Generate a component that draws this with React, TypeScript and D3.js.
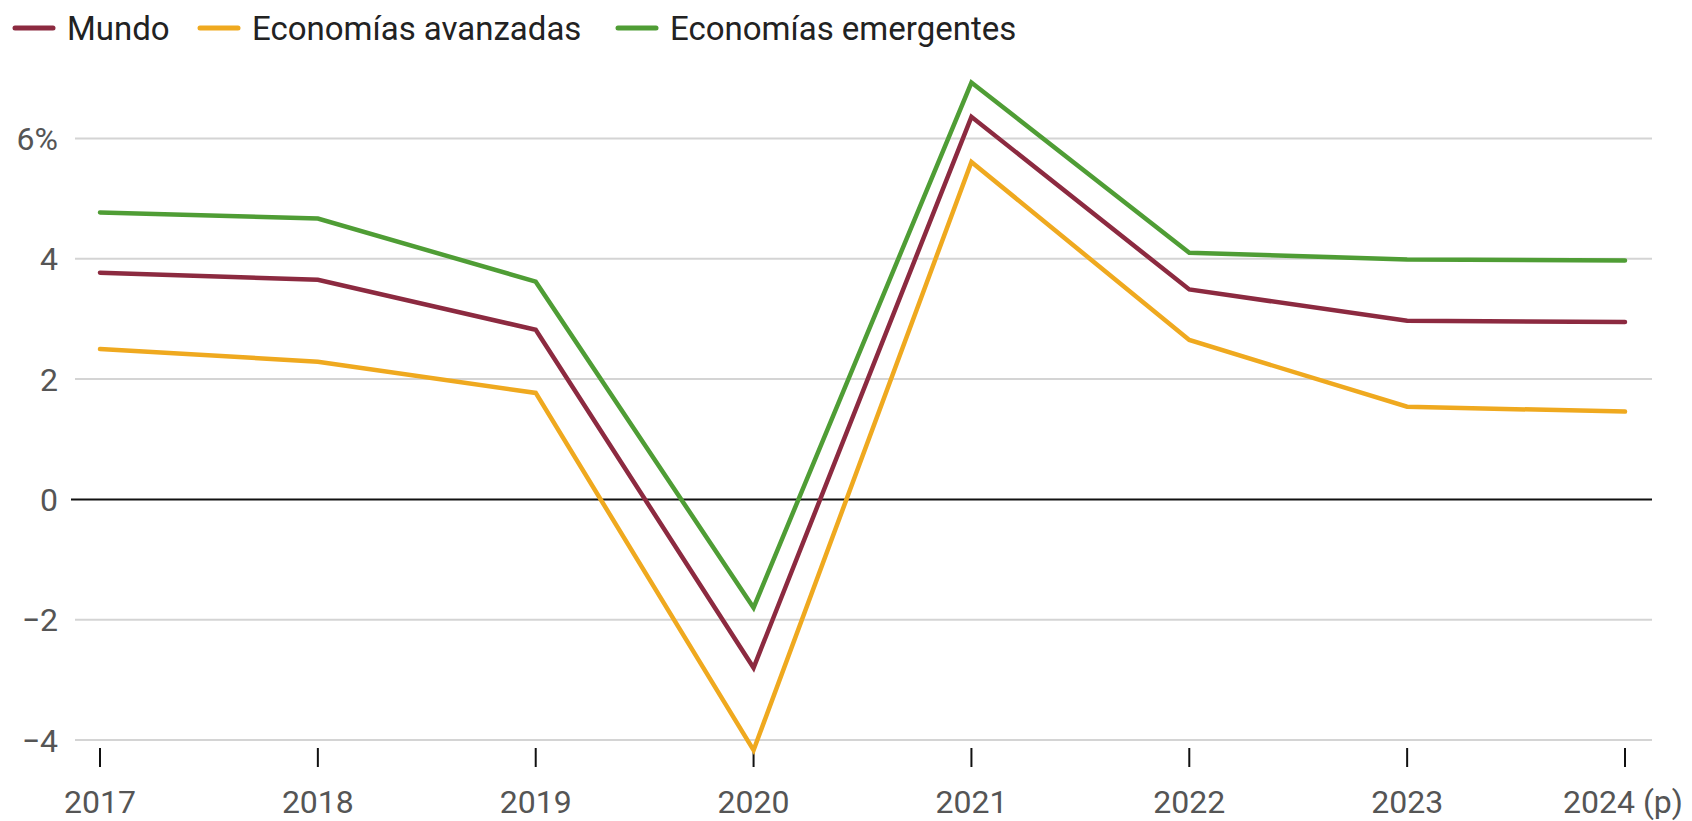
import React from "react";
import * as d3 from "d3";

const years = ["2017", "2018", "2019", "2020", "2021", "2022", "2023", "2024 (p)"];
const mundo = [3.77, 3.65, 2.82, -2.8, 6.36, 3.49, 2.97, 2.95];
const avanzadas = [2.5, 2.29, 1.77, -4.17, 5.61, 2.65, 1.54, 1.46];
const emergentes = [4.77, 4.67, 3.62, -1.8, 6.93, 4.1, 3.99, 3.97];
const yTicks = [-4, -2, 0, 2, 4, 6];
const seriesNames = ["Mundo", "Economías avanzadas", "Economías emergentes"];
const seriesColors = ["#8c2a40", "#efa91f", "#4f9d35"];

const W = 1692;
const H = 821;
const FONT = "Roboto, 'Noto Sans', sans-serif";

export default function App() {
  const x = d3.scalePoint<string>().domain(years).range([100, 1625]);
  const y = d3.scaleLinear().domain([-4, 6]).range([740, 138.5]);
  const line = d3
    .line<number>()
    .x((_, i) => x(years[i]) as number)
    .y((d) => y(d));

  const series = [
    { name: seriesNames[1], color: seriesColors[1], values: avanzadas },
    { name: seriesNames[2], color: seriesColors[2], values: emergentes },
    { name: seriesNames[0], color: seriesColors[0], values: mundo },
  ];

  const legendItems = [
    { name: seriesNames[0], color: seriesColors[0], sx: 13, tx: 67 },
    { name: seriesNames[1], color: seriesColors[1], sx: 198, tx: 252 },
    { name: seriesNames[2], color: seriesColors[2], sx: 616, tx: 670 },
  ];

  const fmt = (v: number) => (v < 0 ? "\u2212" + Math.abs(v) : String(v)) + (v === 6 ? "%" : "");

  return (
    <svg
      width={W}
      height={H}
      style={{ position: "absolute", left: 0, top: 0, background: "#fff" }}
      fontFamily={FONT}
    >
      <rect width={W} height={H} fill="#fff" />
      {/* legend */}
      {legendItems.map((it) => (
        <g key={it.name}>
          <line
            x1={it.sx + 2}
            x2={it.sx + 40}
            y1={28}
            y2={28}
            stroke={it.color}
            strokeWidth={5}
            strokeLinecap="round"
          />
          <text x={it.tx} y={40} fontSize={33} fill="#222">
            {it.name}
          </text>
        </g>
      ))}
      {/* gridlines */}
      {yTicks.map((t) => (
        <g key={t}>
          <line
            x1={t === 0 ? 71 : 75}
            x2={1652}
            y1={y(t)}
            y2={y(t)}
            stroke={t === 0 ? "#111" : "#d4d4d4"}
            strokeWidth={2}
          />
          <text
            x={58}
            y={y(t)}
            dy="0.36em"
            textAnchor="end"
            fontSize={32}
            fill="#555"
          >
            {fmt(t)}
          </text>
        </g>
      ))}
      {/* x ticks */}
      {years.map((yr) => (
        <g key={yr}>
          <line
            x1={x(yr)}
            x2={x(yr)}
            y1={748}
            y2={767}
            stroke="#111"
            strokeWidth={2}
          />
          <text
            x={x(yr)}
            y={813}
            textAnchor={yr === "2024 (p)" ? "start" : "middle"}
            dx={yr === "2024 (p)" ? -62 : 0}
            fontSize={32}
            fill="#555"
          >
            {yr}
          </text>
        </g>
      ))}
      {/* lines */}
      {series.map((s) => (
        <path
          key={s.name}
          d={line(s.values) || ""}
          fill="none"
          stroke={s.color}
          strokeWidth={4.5}
          strokeLinejoin="miter"
          strokeLinecap="round"
        />
      ))}
    </svg>
  );
}
